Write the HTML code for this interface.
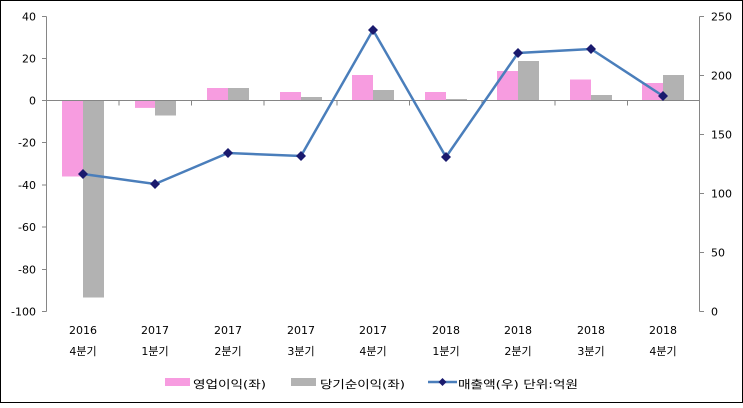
<!DOCTYPE html>
<html><head><meta charset="utf-8"><style>
body{margin:0;background:#fff}
svg text{font-family:"DejaVu Sans","Noto Sans CJK KR",sans-serif;font-size:11px;fill:#000}
</style></head><body>
<svg width="743" height="403" xmlns="http://www.w3.org/2000/svg">
<rect x="0.5" y="0.5" width="742" height="402" fill="#fff" stroke="#000"/>
<g fill="#f79ce0">
<rect x="62" y="100.5" width="21" height="76"/>
<rect x="135" y="100.5" width="20" height="7.4"/>
<rect x="207" y="88" width="21" height="12.5"/>
<rect x="280" y="92" width="21" height="8.5"/>
<rect x="352" y="75" width="21" height="25.5"/>
<rect x="425" y="92" width="21" height="8.5"/>
<rect x="497" y="71" width="21" height="29.5"/>
<rect x="570" y="79.5" width="21" height="21"/>
<rect x="642" y="83" width="21" height="17.5"/>
</g>
<g fill="#b2b2b2">
<rect x="83" y="100.5" width="21" height="197"/>
<rect x="155" y="100.5" width="21" height="15"/>
<rect x="228" y="88" width="21" height="12.5"/>
<rect x="301" y="97" width="21" height="3.5"/>
<rect x="373" y="90" width="21" height="10.5"/>
<rect x="446" y="99" width="21" height="1.5"/>
<rect x="518" y="61" width="21" height="39.5"/>
<rect x="591" y="95" width="21" height="5.5"/>
<rect x="663" y="75" width="21" height="25.5"/>
</g>
<g stroke="#868686" stroke-width="1" fill="none">
<path d="M46.5 16.5V311.5M42 16.5h4.5M42 58.5h4.5M42 100.5h4.5M42 142.5h4.5M42 185h4.5M42 227h4.5M42 269.5h4.5M42 311.5h4.5"/>
<path d="M699.5 16.5V311.5M699.5 16.5h4.5M699.5 75.5h4.5M699.5 134.5h4.5M699.5 193.5h4.5M699.5 252.5h4.5M699.5 311.5h4.5"/>
<path d="M46.5 100.5H699.5M119 100.5v5M191.5 100.5v5M264 100.5v5M337 100.5v5M409.5 100.5v5M482 100.5v5M555 100.5v5M627.5 100.5v5"/>
</g>
<g text-anchor="end">
<text x="36" y="20.5">40</text><text x="36" y="62.5">20</text><text x="36" y="104.5">0</text>
<text x="36" y="146.5">-20</text><text x="36" y="189">-40</text><text x="36" y="231">-60</text>
<text x="36" y="273.5">-80</text><text x="36" y="315.5">-100</text>
</g>
<g>
<text x="711" y="20.5">250</text><text x="711" y="79.5">200</text><text x="711" y="138.5">150</text>
<text x="711" y="197.5">100</text><text x="711" y="256.5">50</text><text x="711" y="315.5">0</text>
</g>
<g text-anchor="middle">
<text x="83" y="334">2016</text><text x="83" y="355" font-size="13">4분기</text>
<text x="155" y="334">2017</text><text x="155" y="355" font-size="13">1분기</text>
<text x="228" y="334">2017</text><text x="228" y="355" font-size="13">2분기</text>
<text x="301" y="334">2017</text><text x="301" y="355" font-size="13">3분기</text>
<text x="373" y="334">2017</text><text x="373" y="355" font-size="13">4분기</text>
<text x="446" y="334">2018</text><text x="446" y="355" font-size="13">1분기</text>
<text x="518" y="334">2018</text><text x="518" y="355" font-size="13">2분기</text>
<text x="591" y="334">2018</text><text x="591" y="355" font-size="13">3분기</text>
<text x="663" y="334">2018</text><text x="663" y="355" font-size="13">4분기</text>
</g>
<polyline points="83,174 155,184 228,153 301,156 373,30 446,157 518,53 591,49 663,96" fill="none" stroke="#4a7ebb" stroke-width="2.5"/>
<g fill="#1a1a6e">
<path d="M83 169l5 5-5 5-5-5z"/><path d="M155 179l5 5-5 5-5-5z"/><path d="M228 148l5 5-5 5-5-5z"/>
<path d="M301 151l5 5-5 5-5-5z"/><path d="M373 25l5 5-5 5-5-5z"/><path d="M446 152l5 5-5 5-5-5z"/>
<path d="M518 48l5 5-5 5-5-5z"/><path d="M591 44l5 5-5 5-5-5z"/><path d="M663 91l5 5-5 5-5-5z"/>
</g>
<rect x="165" y="378" width="25" height="8" fill="#f79ce0"/>
<text x="193" y="388" font-size="13" textLength="73" lengthAdjust="spacingAndGlyphs">영업이익(좌)</text>
<rect x="291" y="378" width="25" height="8" fill="#b2b2b2"/>
<text x="320" y="388" font-size="13" textLength="85" lengthAdjust="spacingAndGlyphs">당기순이익(좌)</text>
<line x1="428" y1="382" x2="457" y2="382" stroke="#4a7ebb" stroke-width="2.5"/>
<path d="M442.5 378l4 4-4 4-4-4z" fill="#1a1a6e"/>
<text x="458" y="388" font-size="13" textLength="120" lengthAdjust="spacingAndGlyphs">매출액(우)  단위:억원</text>
</svg>
</body></html>
